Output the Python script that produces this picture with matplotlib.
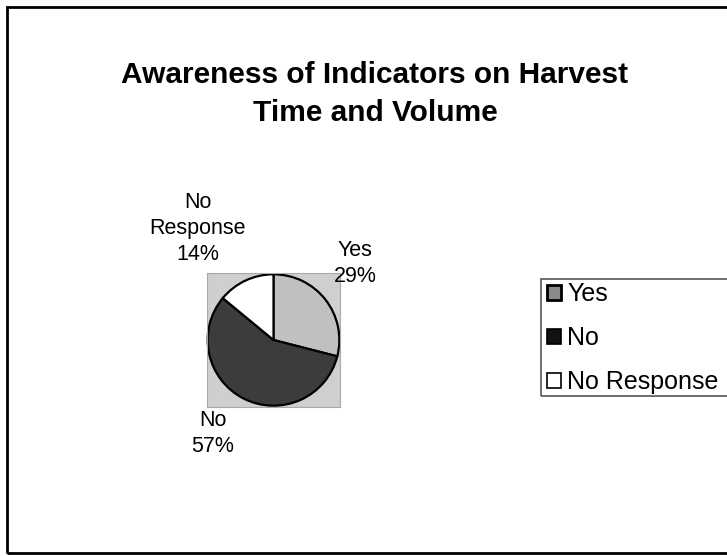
import matplotlib.pyplot as plt
from matplotlib.patches import Rectangle, Patch

labels = ["Yes", "No", "No Response"]
pie_labels = ["Yes", "No", "No\nResponse"]
shares = [29, 57, 14]
colors = ["#c0c0c0", "#3c3c3c", "#ffffff"]
title = "Awareness of Indicators on Harvest\nTime and Volume"

plt.rcParams["font.family"] = ["Liberation Sans", "DejaVu Sans"]

W, H = 727, 556
fig = plt.figure(figsize=(W / 100, H / 100), dpi=100)

# chart border (right edge runs off the picture)
fig.patches.append(Rectangle((7 / W, 3 / H), 1.0, (H - 10) / H, transform=fig.transFigure,
                             fill=False, edgecolor="black", linewidth=2))

fig.text(375 / W, 1 - 94 / H, title, ha="center", va="center",
         fontsize=21.5, fontweight="bold", linespacing=1.48)

ax = fig.add_axes([207 / W, (H - 407) / H, 133 / W, 134 / H])
ax.pie(shares, colors=colors, startangle=90, counterclock=False, radius=1.0,
       frame=True, wedgeprops=dict(edgecolor="black", linewidth=1.6))
ax.set_facecolor("#cfcfcf")
for s in ax.spines.values():
    s.set_color("#a8a8a8")
ax.set_xticks([])
ax.set_yticks([])
ax.set_xlim(-1.01, 1.01)
ax.set_ylim(-1.02, 1.02)
ax.set_aspect("auto")

label_pos = [(1.24, 1.17), (-0.92, -1.42), (-1.15, 1.70)]
for lab, v, (x, y) in zip(pie_labels, shares, label_pos):
    ax.text(x, y, f"{lab}\n{v}%", ha="center", va="center", fontsize=15.5,
            linespacing=1.33, clip_on=False)

handles = [Patch(facecolor=c, edgecolor="black", linewidth=1.2) for c in colors]
handles[0] = Patch(facecolor="#8a8a8a", edgecolor="black", linewidth=2)
handles[1] = Patch(facecolor="#111111", edgecolor="black", linewidth=1.2)
leg = fig.legend(handles, labels, loc="upper left", bbox_to_anchor=(541 / W, 1 - 276 / H),
                 fontsize=18, frameon=False, handlelength=0.55,
                 handleheight=0.55, handletextpad=0.25, labelspacing=0.8,
                 borderpad=0.25, borderaxespad=0)

# legend box runs off the right edge like the original
fig.patches.append(Rectangle((541 / W, (H - 396) / H), 0.5, 117 / H, transform=fig.transFigure,
                             fill=False, edgecolor="#555555", linewidth=1.2))

fig.savefig("out.png", dpi=100)
